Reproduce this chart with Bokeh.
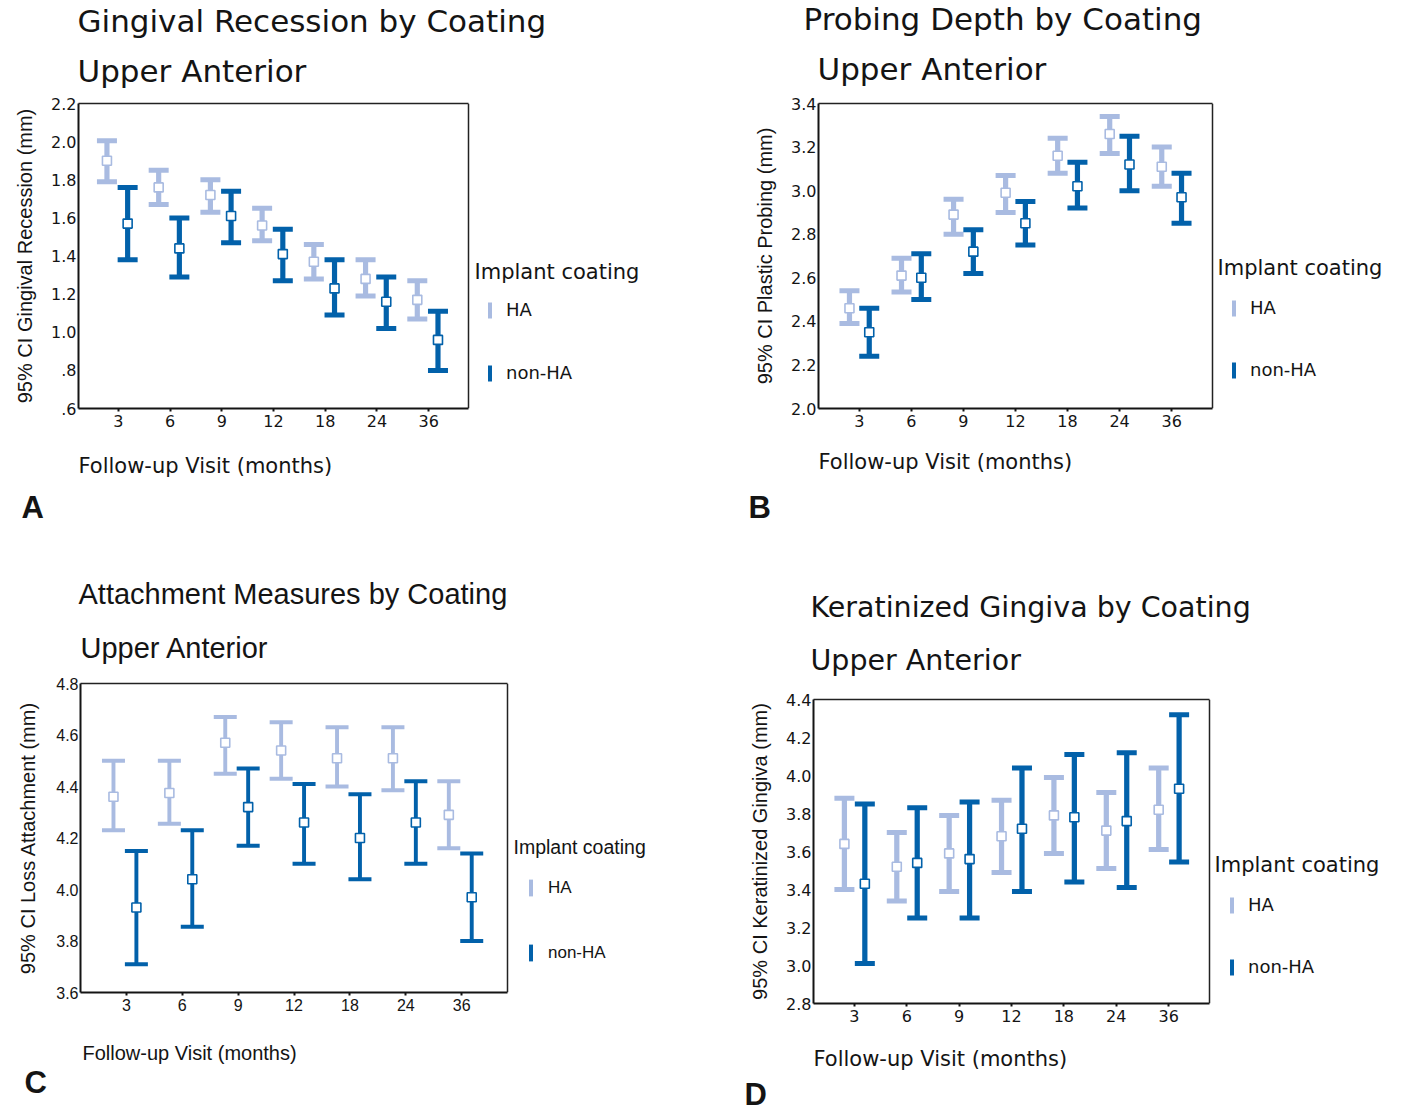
from bokeh.plotting import figure
from bokeh.models import (Range1d, FixedTicker, Legend, LegendItem, ColumnDataSource, Title, Label,
                          LinearAxis, Span)
from bokeh.transform import dodge
from bokeh.layouts import column, row
from bokeh.embed import file_html
from bokeh.resources import INLINE

visits = ["3", "6", "9", "12", "18", "24", "36"]
groups = ["HA", "non-HA"]

# Panel A - Gingival recession
gr_ha_mean = [1.90, 1.76, 1.72, 1.56, 1.37, 1.28, 1.17]
gr_ha_low = [1.79, 1.67, 1.63, 1.48, 1.28, 1.19, 1.07]
gr_ha_high = [2.005, 1.85, 1.80, 1.65, 1.46, 1.38, 1.27]
gr_non_mean = [1.57, 1.44, 1.61, 1.41, 1.23, 1.16, 0.96]
gr_non_low = [1.38, 1.29, 1.47, 1.27, 1.09, 1.02, 0.80]
gr_non_high = [1.76, 1.60, 1.74, 1.54, 1.38, 1.29, 1.11]

# Panel B - Probing depth
pd_ha_mean = [2.46, 2.61, 2.89, 2.99, 3.16, 3.26, 3.11]
pd_ha_low = [2.39, 2.535, 2.80, 2.90, 3.08, 3.17, 3.02]
pd_ha_high = [2.54, 2.69, 2.96, 3.07, 3.24, 3.34, 3.20]
pd_non_mean = [2.35, 2.60, 2.72, 2.85, 3.02, 3.12, 2.97]
pd_non_low = [2.24, 2.50, 2.62, 2.75, 2.92, 3.00, 2.85]
pd_non_high = [2.46, 2.71, 2.82, 2.95, 3.13, 3.25, 3.08]

# Panel C - Loss of attachment
la_ha_mean = [4.36, 4.375, 4.57, 4.54, 4.51, 4.51, 4.29]
la_ha_low = [4.23, 4.255, 4.45, 4.43, 4.40, 4.385, 4.16]
la_ha_high = [4.50, 4.50, 4.67, 4.65, 4.63, 4.63, 4.42]
la_non_mean = [3.93, 4.04, 4.32, 4.26, 4.20, 4.26, 3.97]
la_non_low = [3.71, 3.855, 4.17, 4.10, 4.04, 4.10, 3.80]
la_non_high = [4.15, 4.23, 4.47, 4.41, 4.37, 4.42, 4.14]

# Panel D - Keratinized gingiva
kg_ha_mean = [3.64, 3.52, 3.59, 3.68, 3.79, 3.71, 3.82]
kg_ha_low = [3.40, 3.34, 3.39, 3.49, 3.59, 3.51, 3.61]
kg_ha_high = [3.88, 3.70, 3.79, 3.87, 3.99, 3.91, 4.04]
kg_non_mean = [3.43, 3.54, 3.56, 3.72, 3.78, 3.76, 3.93]
kg_non_low = [3.01, 3.25, 3.25, 3.39, 3.44, 3.41, 3.545]
kg_non_high = [3.85, 3.83, 3.86, 4.04, 4.11, 4.12, 4.32]

gr_ticks = [0.6, 0.8, 1.0, 1.2, 1.4, 1.6, 1.8, 2.0, 2.2]
gr_tick_labels = [".6", ".8", "1.0", "1.2", "1.4", "1.6", "1.8", "2.0", "2.2"]
pd_ticks = [2.0, 2.2, 2.4, 2.6, 2.8, 3.0, 3.2, 3.4]
pd_tick_labels = ["2.0", "2.2", "2.4", "2.6", "2.8", "3.0", "3.2", "3.4"]
la_ticks = [3.6, 3.8, 4.0, 4.2, 4.4, 4.6, 4.8]
la_tick_labels = ["3.6", "3.8", "4.0", "4.2", "4.4", "4.6", "4.8"]
kg_ticks = [2.8, 3.0, 3.2, 3.4, 3.6, 3.8, 4.0, 4.2, 4.4]
kg_tick_labels = ["2.8", "3.0", "3.2", "3.4", "3.6", "3.8", "4.0", "4.2", "4.4"]

HA_COLOR = "#A9BBE1"
NON_COLOR = "#0261AA"
INK = "#141414"
WIDE = "DejaVu Sans"
ARIAL = "Liberation Sans"

visit_pos = list(range(1, len(visits) + 1))


def make_panel(cfg):
    W, H = cfg["size"]
    bl, br, bt, bb = cfg["borders"]
    box_w = cfg["box_w"]            # visible plot box width (px)
    frame_w = W - bl - br           # frame also holds the legend area
    pad = cfg["xpad"]
    x0, xr = 1 - pad, len(visits) + pad
    k = box_w / (xr - x0)
    x_end = x0 + frame_w / k

    p = figure(width=W, height=H, output_backend="svg", toolbar_location=None,
               x_range=Range1d(x0, x_end), y_range=Range1d(cfg["ylim"][0], cfg["ylim"][1]),
               min_border_left=bl, min_border_right=br, min_border_top=bt, min_border_bottom=bb,
               margin=cfg["margin"])
    p.xgrid.visible = False
    p.ygrid.visible = False
    p.outline_line_color = None
    p.background_fill_color = "white"
    p.border_fill_color = "white"

    f = cfg["font"]
    for ax in (p.xaxis[0], p.yaxis[0]):
        ax.axis_line_color = INK
        ax.axis_line_width = 2
        ax.major_tick_line_color = INK
        ax.major_tick_line_width = 2
        ax.minor_tick_line_color = None
        ax.major_label_text_font = f
        ax.major_label_text_font_size = cfg["tick_size"]
        ax.major_label_text_color = INK
    p.xaxis.bounds = (x0, xr)
    p.xaxis.ticker = FixedTicker(ticks=visit_pos)
    p.xaxis.major_label_overrides = {v: s for v, s in zip(visit_pos, visits)}
    p.xaxis.major_tick_in = 0
    p.xaxis.major_tick_out = 3
    p.xaxis.major_label_standoff = 3
    p.yaxis.major_tick_in = 0
    p.yaxis.major_tick_out = 0
    p.yaxis.major_label_standoff = 2
    p.yaxis.ticker = FixedTicker(ticks=cfg["yticks"])
    p.yaxis.major_label_overrides = {t: s for t, s in zip(cfg["yticks"], cfg["ylabels"])}
    p.yaxis.axis_label = cfg["ylabel"]
    p.yaxis.axis_label_text_font = ARIAL
    p.yaxis.axis_label_text_font_style = "normal"
    p.yaxis.axis_label_text_font_size = "20px"
    p.yaxis.axis_label_text_color = INK
    p.yaxis.axis_label_standoff = cfg["ylabel_standoff"]

    # top and right edges of the plot box
    top = LinearAxis(ticker=FixedTicker(ticks=[]), bounds=(x0, xr), axis_line_color="#222222",
                     axis_line_width=1.5, major_tick_line_color=None, minor_tick_line_color=None,
                     major_tick_out=0, major_tick_in=0, major_label_standoff=0,
                     major_label_text_font_size="1px")
    p.add_layout(top, "above")
    p.add_layout(Span(location=xr, dimension="height", line_color="#222222", line_width=1.5))

    renderers = []
    for (mean, low, high), color, off in zip(cfg["series"], (HA_COLOR, NON_COLOR), cfg["offsets"]):
        src = ColumnDataSource(dict(x=visit_pos, mean=mean, low=low, high=high))
        xs = dodge("x", off)
        vb = p.vbar(x=xs, top="high", bottom="low", width=cfg["stem"], source=src,
                    fill_color=color, line_color=None)
        for col in ("high", "low"):
            p.rect(x=xs, y=col, width=cfg["cap_w"], height=cfg["cap_h"], width_units="screen",
                   height_units="screen", source=src, fill_color=color, line_color=None)
        p.scatter(x=xs, y="mean", marker="square", size=9, source=src, fill_color="white",
                  line_color=color, line_width=1.6)
        renderers.append(vb)

    tf = cfg["title_font"]

    def title(t, off, side, size, standoff, font=tf, style="normal"):
        p.add_layout(Title(text=t, align="left", offset=off, standoff=standoff,
                           text_font=font, text_font_size=f"{size}px", text_font_style=style,
                           text_color=INK), side)

    s2, s1, sx, sl = cfg["standoffs"]
    title("Upper Anterior", cfg["t2off"], "above", cfg["title_size"], s2)
    title(cfg["title"], cfg["t1off"], "above", cfg["title_size"], s1)
    title("Follow-up Visit (months)", cfg["xloff"], "below", cfg["xl_size"], sx)
    title(cfg["letter"], cfg["ltoff"], "below", 31, sl, font=ARIAL, style="bold")

    lt_x, lt_y = cfg["lg_title"]
    p.add_layout(Label(x=lt_x, y=lt_y, x_units="screen", y_units="screen", text="Implant coating",
                       text_font=tf, text_font_size=f"{cfg['lg_size']}px", text_baseline="middle",
                       text_align="left", text_color=INK))
    legend = Legend(items=[LegendItem(label=g, renderers=[r]) for g, r in zip(groups, renderers)],
                    location=cfg["lg_loc"], orientation="vertical",
                    glyph_width=5, glyph_height=cfg["lg_gh"], label_height=cfg["lg_gh"], label_width=20,
                    label_standoff=cfg["lg_standoff"], spacing=cfg["lg_spacing"],
                    padding=0, margin=0, border_line_alpha=0, background_fill_alpha=0,
                    label_text_font=tf, label_text_font_size=cfg["lg_item_size"],
                    label_text_color=INK, click_policy="none")
    p.add_layout(legend, "center")
    return p


panels = [
    dict(size=(700, 560), margin=(0, 0, 0, 0), borders=(78, 5, 103, 152), box_w=390, xpad=0.77,
         ylim=(0.6, 2.2), yticks=gr_ticks, ylabels=gr_tick_labels,
         ylabel="95% CI Gingival Recession (mm)", ylabel_standoff=12,
         series=[(gr_ha_mean, gr_ha_low, gr_ha_high), (gr_non_mean, gr_non_low, gr_non_high)],
         offsets=(-0.22, 0.18), stem=0.1, cap_w=20, cap_h=5, font=WIDE, tick_size="16px",
         title_font=WIDE, title="Gingival Recession by Coating", title_size=31,
         t1off=-1, t2off=-1, xloff=0, xl_size=21, letter="A", ltoff=-57,
         standoffs=(30, -6, -96, -190),
         lg_title=(396, 137), lg_size=21, lg_loc=(409, 25), lg_gh=20, lg_standoff=14, lg_spacing=42,
         lg_item_size="18px"),
    dict(size=(701, 560), margin=(0, 0, 0, 0), borders=(118, 5, 103, 152), box_w=394, xpad=0.785,
         ylim=(2.0, 3.4), yticks=pd_ticks, ylabels=pd_tick_labels,
         ylabel="95% CI Plastic Probing (mm)", ylabel_standoff=12,
         series=[(pd_ha_mean, pd_ha_low, pd_ha_high), (pd_non_mean, pd_non_low, pd_non_high)],
         offsets=(-0.19, 0.19), stem=0.1, cap_w=20, cap_h=5, font=WIDE, tick_size="16px",
         title_font=WIDE, title="Probing Depth by Coating", title_size=31,
         t1off=-15, t2off=-1, xloff=0, xl_size=21, letter="B", ltoff=-70,
         standoffs=(34, -10, -88, -190),
         lg_title=(399, 141), lg_size=21, lg_loc=(413, 28), lg_gh=20, lg_standoff=14, lg_spacing=41,
         lg_item_size="18px"),
    dict(size=(700, 544), margin=(0, 0, 11, 0), borders=(80, 5, 123, 112), box_w=427, xpad=0.82,
         ylim=(3.6, 4.8), yticks=la_ticks, ylabels=la_tick_labels,
         ylabel="95% CI Loss Attachment (mm)", ylabel_standoff=14,
         series=[(la_ha_mean, la_ha_low, la_ha_high), (la_non_mean, la_non_low, la_non_high)],
         offsets=(-0.23, 0.18), stem=0.07, cap_w=23, cap_h=4, font=ARIAL, tick_size="16px",
         title_font=ARIAL, title="Attachment Measures by Coating", title_size=29,
         t1off=-2, t2off=0, xloff=2, xl_size=20, letter="C", ltoff=-56,
         standoffs=(40, 0, -100, -172),
         lg_title=(433, 146), lg_size=19.5, lg_loc=(448, 29), lg_gh=21, lg_standoff=15, lg_spacing=44,
         lg_item_size="17px"),
    dict(size=(701, 539), margin=(16, 0, 0, 0), borders=(113, 5, 123, 112), box_w=396, xpad=0.78,
         ylim=(2.8, 4.4), yticks=kg_ticks, ylabels=kg_tick_labels,
         ylabel="95% CI Keratinized Gingiva (mm)", ylabel_standoff=12,
         series=[(kg_ha_mean, kg_ha_low, kg_ha_high), (kg_non_mean, kg_non_low, kg_non_high)],
         offsets=(-0.19, 0.2), stem=0.1, cap_w=20, cap_h=5, font=WIDE, tick_size="16px",
         title_font=WIDE, title="Keratinized Gingiva by Coating", title_size=28.5,
         t1off=-3, t2off=-3, xloff=0, xl_size=21, letter="D", ltoff=-69,
         standoffs=(46, -10, -92, -174),
         lg_title=(401, 139), lg_size=21, lg_loc=(416, 26), lg_gh=20, lg_standoff=14, lg_spacing=41,
         lg_item_size="18px"),
]

figs = [make_panel(c) for c in panels]
layout = column(row(figs[0], figs[1]), row(figs[2], figs[3]))
open("out.html", "w").write(file_html(layout, INLINE))
